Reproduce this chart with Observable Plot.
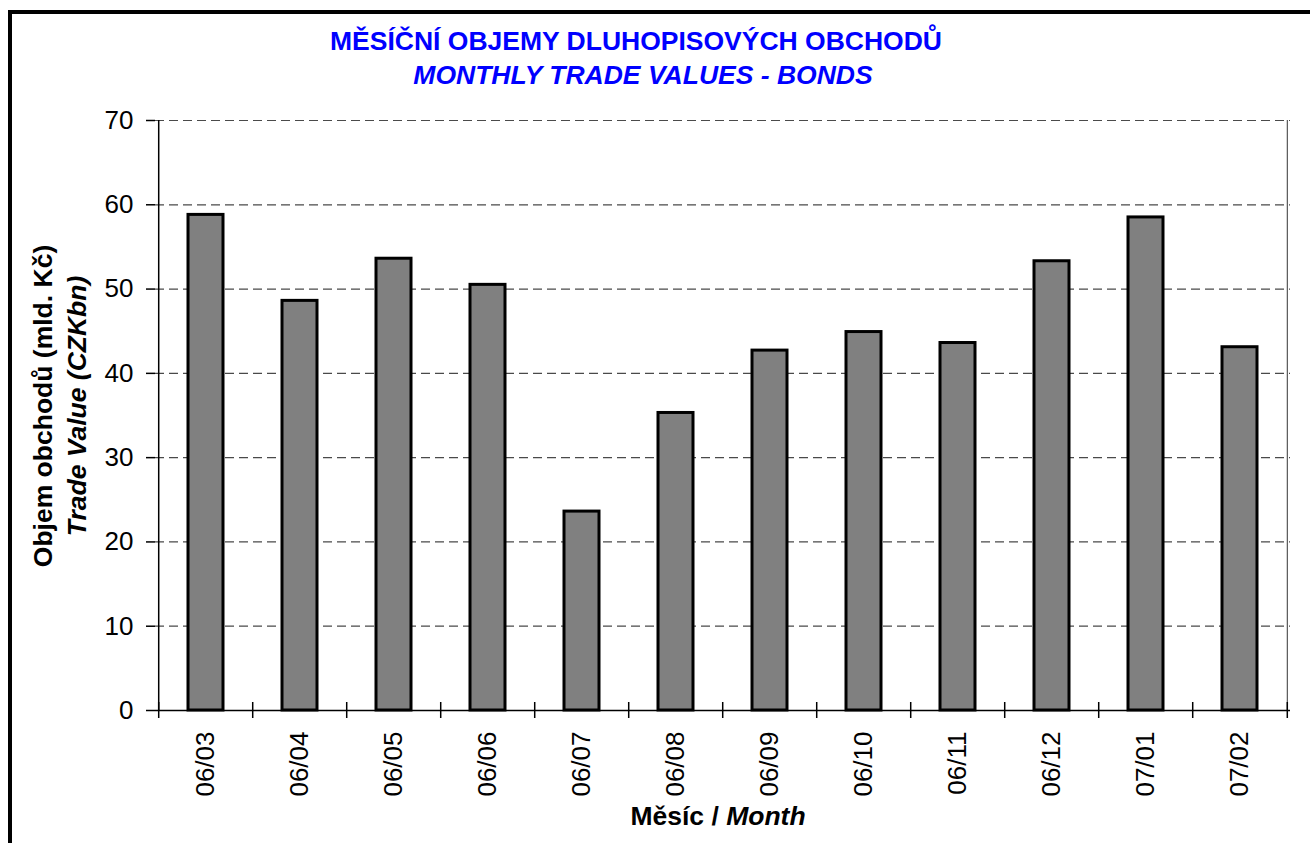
<!DOCTYPE html>
<html>
<head>
<meta charset="utf-8">
<script src="https://cdn.jsdelivr.net/npm/d3@7"></script>
<script src="https://cdn.jsdelivr.net/npm/@observablehq/plot@0.6"></script>
<style>
  html, body { margin: 0; padding: 0; background: #fff; overflow: hidden; }
  #wrap { position: relative; width: 1310px; height: 843px; overflow: hidden;
          font-family: "Liberation Sans", Arial, sans-serif; }
  #frame { position: absolute; left: 8px; top: 10px; width: 1400px; height: 900px;
           border-left: 4px solid #000; border-top: 4px solid #000; box-sizing: border-box; }
  .t { position: absolute; white-space: nowrap; font-size: 26.5px; line-height: 26px;
       font-weight: bold; transform: translateX(-50%); }
  .blue { color: #0000ff; }
  #ytitle { position: absolute; left: 60px; top: 406px; white-space: nowrap;
            font-size: 26.5px; line-height: 34px; font-weight: bold; text-align: center;
            transform: translate(-50%, -50%) rotate(-90deg); }
  #chart { position: absolute; left: 0; top: 0; }
</style>
</head>
<body>
<div id="wrap">
  <div id="frame"></div>
  <div id="chart"></div>
  <div class="t blue" style="left:636px; top:28px;">MĚSÍČNÍ OBJEMY DLUHOPISOVÝCH OBCHODŮ</div>
  <div class="t blue" style="left:643px; top:62px; font-style:italic;">MONTHLY TRADE VALUES - BONDS</div>
  <div class="t" style="left:718px; top:803px;">Měsíc / <i>Month</i></div>
  <div id="ytitle">Objem obchodů (mld. Kč)<br><i>Trade Value (CZKbn)</i></div>
</div>
<script>
const months = ["06/03","06/04","06/05","06/06","06/07","06/08","06/09","06/10","06/11","06/12","07/01","07/02"];
const values = [58.8, 48.6, 53.6, 50.5, 23.6, 35.3, 42.7, 44.9, 43.6, 53.3, 58.5, 43.1];
const yTicks = [0, 10, 20, 30, 40, 50, 60, 70];

const W = 1310, H = 843;
const mL = 155, mR = 20, mT = 120, mB = 133;
const step = (W - mL - mR) / months.length;
const data = months.map((m, i) => ({month: m, value: values[i]}));
const first = months[0], last = months[months.length - 1];

const chart = Plot.plot({
  width: W, height: H,
  marginLeft: mL, marginRight: mR, marginTop: mT, marginBottom: mB,
  style: {fontFamily: "'Liberation Sans', Arial, sans-serif", fontSize: "26px", color: "#000", background: "transparent"},
  x: {domain: months, paddingInner: 0.63, paddingOuter: 0.315},
  y: {domain: [0, 70]},
  marks: [
    Plot.ruleY(yTicks.filter(d => d > 0), {stroke: "#4a4a4a", strokeWidth: 1.2, strokeDasharray: "9,5"}),
    Plot.ruleX([last], {dx: step / 2, stroke: "#333", strokeWidth: 1}),
    Plot.barY(data, {x: "month", y: "value", fill: "#808080", stroke: "#000", strokeWidth: 3}),
    Plot.ruleY([0], {stroke: "#000", strokeWidth: 1.5}),
    Plot.ruleX([first], {dx: -step / 2, stroke: "#000", strokeWidth: 1.5}),
    Plot.ruleX(months, {dx: -step / 2, y1: 0, y2: 0, insetTop: -8, insetBottom: -8, stroke: "#000", strokeWidth: 1.5}),
    Plot.ruleX([last], {dx: step / 2, y1: 0, y2: 0, insetTop: -8, insetBottom: -8, stroke: "#000", strokeWidth: 1.5}),
    Plot.axisY({ticks: yTicks, tickSize: 9, tickPadding: 13, label: null, strokeWidth: 1.5}),
    Plot.axisX({tickSize: 0, tickPadding: 21, tickRotate: -90, label: null})
  ]
});
document.getElementById("chart").appendChild(chart);
</script>
</body>
</html>
